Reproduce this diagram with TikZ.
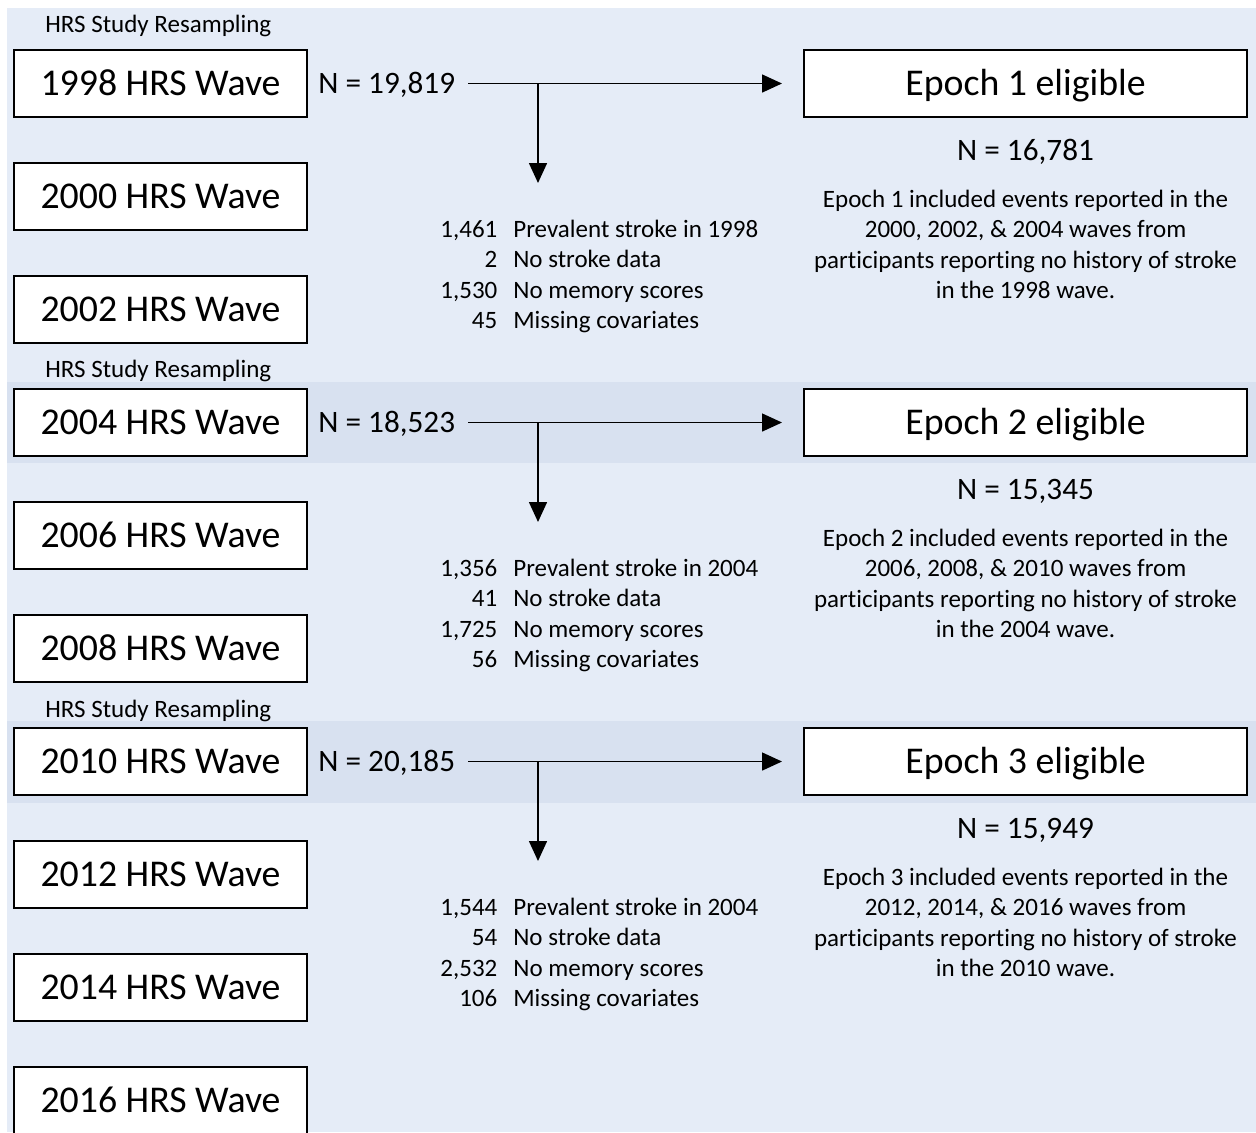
\documentclass[tikz,border=0pt]{standalone}
\usepackage{fontspec}
\setmainfont{Carlito}[Ligatures=NoCommon]
\usetikzlibrary{arrows.meta}

\definecolor{bgblue}{HTML}{E5ECF7}
\definecolor{bandblue}{HTML}{D8E1F0}

\begin{document}
\begin{tikzpicture}[x=0.5pt,y=-0.5pt,
  wavebox/.style={shape=rectangle,draw=black,fill=white,line width=1pt,minimum width=146.5pt,minimum height=33.5pt,inner sep=0pt,text height=12.2pt,text depth=0pt,font=\fontsize{18.9}{22}\selectfont},
  epochbox/.style={wavebox,minimum width=221.5pt},
  ntext/.style={inner xsep=6.5pt,inner ysep=0pt,text height=10pt,text depth=0pt,font=\fontsize{15.6}{19}\selectfont},
  smalltext/.style={inner sep=0pt,font=\fontsize{12.5}{15.2}\selectfont},
  flow/.style={draw=black,line width=0.75pt,-{Triangle[length=10pt,width=9pt]}}]
\useasboundingbox (0,0) rectangle (1256,1132);
\clip (0,0) rectangle (1256,1132);

% background and epoch bands
\fill[bgblue] (7,8) rectangle (1256,1132);
\fill[bandblue] (7,382) rectangle (1256,463);
\fill[bandblue] (7,721) rectangle (1256,803);

% HRS waves
\node[wavebox] (w1998) at (160.5,83.5) {1998 HRS Wave};
\node[wavebox] (w2000) at (160.5,196.5) {2000 HRS Wave};
\node[wavebox] (w2002) at (160.5,309.5) {2002 HRS Wave};
\node[wavebox] (w2004) at (160.5,422.5) {2004 HRS Wave};
\node[wavebox] (w2006) at (160.5,535.5) {2006 HRS Wave};
\node[wavebox] (w2008) at (160.5,648.5) {2008 HRS Wave};
\node[wavebox] (w2010) at (160.5,761.5) {2010 HRS Wave};
\node[wavebox] (w2012) at (160.5,874.5) {2012 HRS Wave};
\node[wavebox] (w2014) at (160.5,987.5) {2014 HRS Wave};
\node[wavebox] (w2016) at (160.5,1100.5) {2016 HRS Wave};

\node[smalltext,anchor=base west] (r1) at (45,32) {HRS Study Resampling};
\node[smalltext,anchor=base west] (r2) at (45,377) {HRS Study Resampling};
\node[smalltext,anchor=base west] (r3) at (45,717) {HRS Study Resampling};

% epoch 1
\node[ntext,anchor=west] (n1) at (305,83.5) {N = 19,819};
\node[epochbox] (e1) at (1025.5,83.5) {Epoch 1 eligible};
\node[ntext] (m1) at (1025.5,150) {N = 16,781};
\node[smalltext] (p1) at (1025.5,247) {\begin{tabular}{@{}c@{}}Epoch 1 included events reported in the\\2000, 2002, \& 2004 waves from\\participants reporting no history of stroke\\in the 1998 wave.\end{tabular}};
\node[smalltext,anchor=west] (x1) at (440,277) {\begin{tabular}{@{}r@{\hspace{8pt}}l@{}}1,461 & Prevalent stroke in 1998\\2 & No stroke data\\1,530 & No memory scores\\45 & Missing covariates\end{tabular}};
\coordinate (b1) at (538,83.5);
\coordinate (d1) at (538,183);
\draw[flow,shorten >=10.5pt] (n1.east) -- (e1.west);
\draw[flow] (b1) -- (d1);

% epoch 2
\node[ntext,anchor=west] (n2) at (305,422.5) {N = 18,523};
\node[epochbox] (e2) at (1025.5,422.5) {Epoch 2 eligible};
\node[ntext] (m2) at (1025.5,489) {N = 15,345};
\node[smalltext] (p2) at (1025.5,586) {\begin{tabular}{@{}c@{}}Epoch 2 included events reported in the\\2006, 2008, \& 2010 waves from\\participants reporting no history of stroke\\in the 2004 wave.\end{tabular}};
\node[smalltext,anchor=west] (x2) at (440,616) {\begin{tabular}{@{}r@{\hspace{8pt}}l@{}}1,356 & Prevalent stroke in 2004\\41 & No stroke data\\1,725 & No memory scores\\56 & Missing covariates\end{tabular}};
\coordinate (b2) at (538,422.5);
\coordinate (d2) at (538,522);
\draw[flow,shorten >=10.5pt] (n2.east) -- (e2.west);
\draw[flow] (b2) -- (d2);

% epoch 3
\node[ntext,anchor=west] (n3) at (305,761.5) {N = 20,185};
\node[epochbox] (e3) at (1025.5,761.5) {Epoch 3 eligible};
\node[ntext] (m3) at (1025.5,828) {N = 15,949};
\node[smalltext] (p3) at (1025.5,925) {\begin{tabular}{@{}c@{}}Epoch 3 included events reported in the\\2012, 2014, \& 2016 waves from\\participants reporting no history of stroke\\in the 2010 wave.\end{tabular}};
\node[smalltext,anchor=west] (x3) at (440,955) {\begin{tabular}{@{}r@{\hspace{8pt}}l@{}}1,544 & Prevalent stroke in 2004\\54 & No stroke data\\2,532 & No memory scores\\106 & Missing covariates\end{tabular}};
\coordinate (b3) at (538,761.5);
\coordinate (d3) at (538,861);
\draw[flow,shorten >=10.5pt] (n3.east) -- (e3.west);
\draw[flow] (b3) -- (d3);
\end{tikzpicture}
\end{document}
